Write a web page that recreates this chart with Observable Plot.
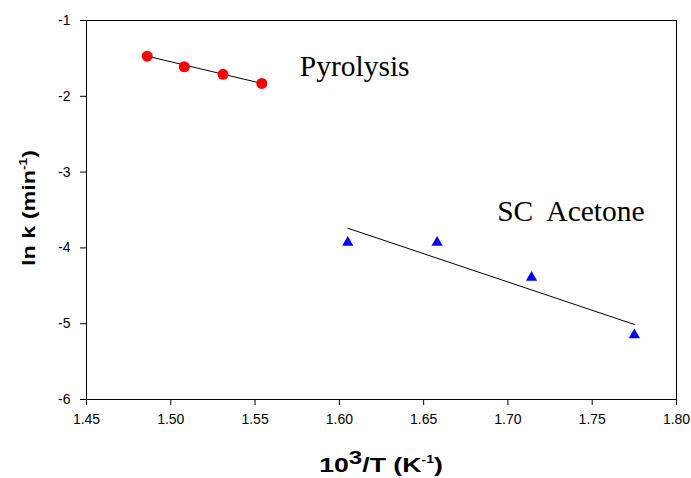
<!DOCTYPE html>
<html><head><meta charset="utf-8">
<script src="https://cdn.jsdelivr.net/npm/d3@7"></script>
<script src="https://cdn.jsdelivr.net/npm/@observablehq/plot@0.6"></script>
<style>body{margin:0;background:#fff}</style>
</head><body><div id="chart"></div>
<script>
// Data
const pyroX = [1.486, 1.508, 1.531, 1.554];
const pyroY = [-1.47, -1.61, -1.71, -1.83];
const scX = [1.605, 1.658, 1.714, 1.775];
const scY = [-3.93, -3.93, -4.39, -5.15];
// Linear fit end points
const pyroFitX = [1.486, 1.554];
const pyroFitY = [-1.47, -1.83];
const scFitX = [1.605, 1.775];
const scFitY = [-3.74, -5.01];
// Ticks and labels
const xTicks = [1.45, 1.50, 1.55, 1.60, 1.65, 1.70, 1.75, 1.80];
const yTicks = [-1, -2, -3, -4, -5, -6];
const seriesNames = ["Pyrolysis", "SC  Acetone"];

const toRows = (xs, ys) => xs.map((x, i) => ({x, y: ys[i]}));

const labelRows = [
  {x: 1.5765, y: -1.611, t: seriesNames[0]},
  {x: 1.6936, y: -3.526, t: seriesNames[1]}
];

const plot = Plot.plot({
  width: 691, height: 478,
  marginLeft: 86, marginRight: 15, marginTop: 20, marginBottom: 79,
  style: {fontFamily: "'Liberation Sans', Arial, sans-serif", fontSize: "14px", color: "#000", background: "#fff"},
  x: {domain: [1.45, 1.80]},
  y: {domain: [-6, -1]},
  marks: [
    Plot.frame({stroke: "#000", strokeWidth: 1}),
    Plot.axisX({ticks: xTicks, tickFormat: d3.format(".2f"), tickSize: 6, tickPadding: 9, label: null}),
    Plot.axisY({ticks: yTicks, tickFormat: d => String(d), tickSize: 6, tickPadding: 10, label: null}),
    Plot.line(toRows(pyroFitX, pyroFitY), {x: "x", y: "y", stroke: "#000", strokeWidth: 1}),
    Plot.line(toRows(scFitX, scFitY), {x: "x", y: "y", stroke: "#000", strokeWidth: 1}),
    Plot.dot(toRows(pyroX, pyroY), {x: "x", y: "y", r: 5.5, fill: "#ff0000", stroke: "none"}),
    Plot.dot(toRows(scX, scY), {x: "x", y: "y", r: 4.2, symbol: "triangle", fill: "#0000ff", stroke: "none"}),
    Plot.text(labelRows, {x: "x", y: "y", text: "t", textAnchor: "start", lineAnchor: "middle",
      fontFamily: "'Liberation Serif', 'Times New Roman', serif", fontSize: 29.5, fill: "#000"})
  ]
});
document.getElementById("chart").appendChild(plot);

const svg = d3.select(plot);
const xl = svg.append("text")
  .attr("transform", "translate(381,472) scale(1.27,1)")
  .attr("text-anchor", "middle")
  .attr("font-family", "'Liberation Sans', Arial, sans-serif")
  .attr("font-weight", "bold").attr("font-size", 21).attr("fill", "#000");
xl.append("tspan").text("10");
xl.append("tspan").attr("dy", -8).attr("font-size", 19).text("3");
xl.append("tspan").attr("dy", 8).text("/T (K");
xl.append("tspan").attr("dy", -9).attr("font-size", 11).text("-1");
xl.append("tspan").attr("dy", 9).text(")");

const yl = svg.append("text")
  .attr("transform", "translate(35,208) rotate(-90) scale(1.23,1)")
  .attr("text-anchor", "middle")
  .attr("font-family", "'Liberation Sans', Arial, sans-serif")
  .attr("font-weight", "bold").attr("font-size", 19).attr("fill", "#000");
yl.append("tspan").text("ln k (min");
yl.append("tspan").attr("dy", -8).attr("font-size", 11).text("-1");
yl.append("tspan").attr("dy", 8).text(")");
</script>
</body></html>
